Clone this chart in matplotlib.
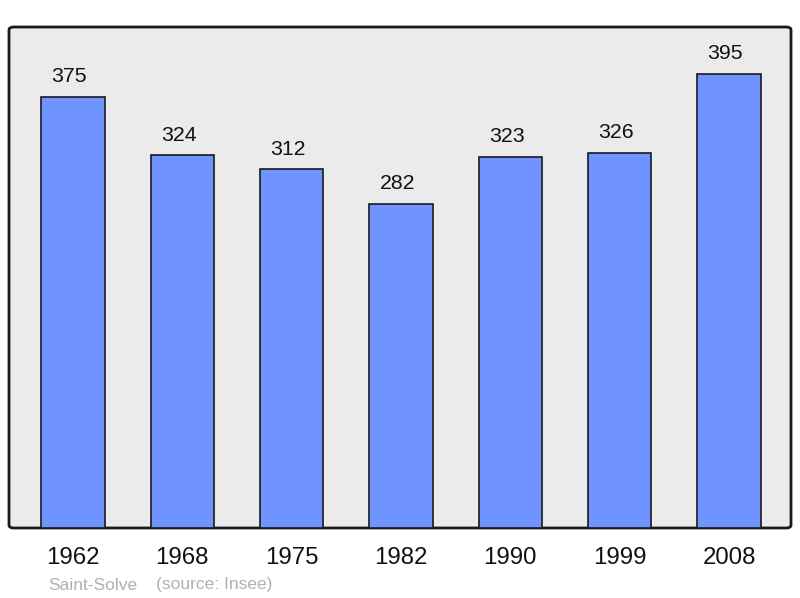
import matplotlib.pyplot as plt
from matplotlib.patches import FancyBboxPatch

plt.rcParams['font.family'] = ['Liberation Sans', 'DejaVu Sans']

years = ['1962', '1968', '1975', '1982', '1990', '1999', '2008']
population = [375, 324, 312, 282, 323, 326, 395]

fig = plt.figure(figsize=(8, 5.98), dpi=100)
ax = fig.add_axes([9/800, 1-528/598, 782/800, 501/598])
ax.set_facecolor('none')

# background box with slightly rounded corners
bg = FancyBboxPatch((0, 0), 1, 1, boxstyle='round,pad=0,rounding_size=0.006',
                    transform=ax.transAxes, facecolor='#ebebeb',
                    edgecolor='#1a1a1a', linewidth=2, zorder=0, clip_on=False)
ax.add_patch(bg)

x = range(len(years))
bars = ax.bar(x, population, width=0.58, color='#7094ff', edgecolor='#1a1a1a',
              linewidth=1.2, zorder=2)
for xi, v in zip(x, population):
    ax.text(xi - 0.035, v + 17.5, str(v), ha='center', va='center',
            fontsize=15.3, color='#111111')

ax.set_xlim(-0.585, 6.567)
ax.set_ylim(0, 435.6)
for s in ax.spines.values():
    s.set_visible(False)
ax.set_yticks([])
ax.set_xticks(list(x))
ax.set_xticklabels(years, fontsize=17.3, color='#111111')
ax.tick_params(axis='x', length=0, pad=14)

fig.text(48/800, 1-585/598, 'Saint-Solve', fontsize=12.5, color='#b0b0b0', va='center')
fig.text(156/800, 1-585/598, '(source: Insee)', fontsize=12.5, color='#b0b0b0', va='center')

fig.savefig('out.png', dpi=100)
